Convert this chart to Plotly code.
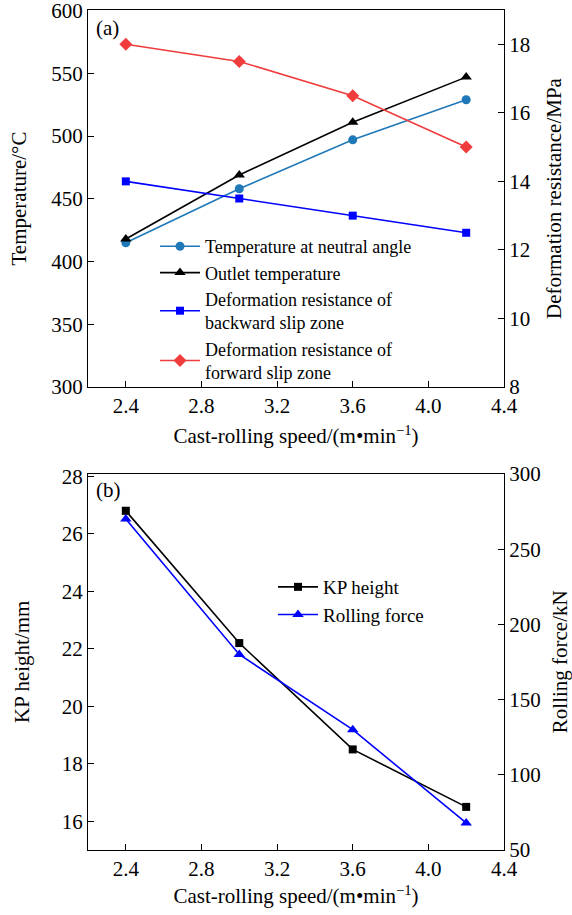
import plotly.graph_objects as go

# ---- data ----
speed = [2.4, 3.0, 3.6, 4.2]
temp_neutral = [415, 458, 497, 529]
temp_outlet = [418, 469, 511, 547]
def_backward = [14.0, 13.5, 13.0, 12.5]
def_forward = [18.0, 17.5, 16.5, 15.0]
kp_height = [26.8, 22.2, 18.5, 16.5]
rolling_force = [270, 180, 130, 68]

x_ticks = [2.4, 2.8, 3.2, 3.6, 4.0, 4.4]
x_ticktext = ["2.4", "2.8", "3.2", "3.6", "4.0", "4.4"]

W, H = 572, 915
FONT = "Liberation Serif, Times New Roman, serif"
FS = 21

def px_x(p):
    return p / W

def px_y(p):
    return 1 - p / H

fig = go.Figure()

# panel (a)
fig.add_trace(go.Scatter(x=speed, y=temp_neutral, mode="lines+markers",
                         name="Temperature at neutral angle",
                         line=dict(color="#1f78b8", width=1.6),
                         marker=dict(symbol="circle", size=9, color="#1f78b8"),
                         xaxis="x", yaxis="y", legend="legend"))
fig.add_trace(go.Scatter(x=speed, y=temp_outlet, mode="lines+markers",
                         name="Outlet temperature",
                         line=dict(color="black", width=1.6),
                         marker=dict(symbol="triangle-up", size=10, color="black"),
                         xaxis="x", yaxis="y", legend="legend"))
fig.add_trace(go.Scatter(x=speed, y=def_backward, mode="lines+markers",
                         name="Deformation resistance of<br>backward slip zone",
                         line=dict(color="#0000ff", width=1.6),
                         marker=dict(symbol="square", size=8, color="#0000ff"),
                         xaxis="x", yaxis="y2", legend="legend"))
fig.add_trace(go.Scatter(x=speed, y=def_forward, mode="lines+markers",
                         name="Deformation resistance of<br>forward slip zone",
                         line=dict(color="#f03c3c", width=1.6),
                         marker=dict(symbol="diamond", size=10, color="#f03c3c"),
                         xaxis="x", yaxis="y2", legend="legend"))

# panel (b)
fig.add_trace(go.Scatter(x=speed, y=kp_height, mode="lines+markers",
                         name="KP height",
                         line=dict(color="black", width=1.6),
                         marker=dict(symbol="square", size=8, color="black"),
                         xaxis="x2", yaxis="y3", legend="legend2"))
fig.add_trace(go.Scatter(x=speed, y=rolling_force, mode="lines+markers",
                         name="Rolling force",
                         line=dict(color="#0000ff", width=1.6),
                         marker=dict(symbol="triangle-up", size=10, color="#0000ff"),
                         xaxis="x2", yaxis="y4", legend="legend2"))

dom_x = [px_x(88), px_x(504)]
dom_a = [px_y(387), px_y(10)]
dom_b = [px_y(850), px_y(473.5)]

axis_common = dict(showline=True, linecolor="black", linewidth=1.2,
                   ticks="inside", ticklen=6, tickwidth=1.2, tickcolor="black",
                   showgrid=False, zeroline=False, automargin=False,
                   ticklabeloverflow="allow",
                   tickfont=dict(family=FONT, size=FS, color="black"))

xtitle = "Cast-rolling speed/(m•min<sup>−1</sup>)"

fig.update_layout(
    width=W, height=H,
    margin=dict(l=0, r=0, t=0, b=0),
    paper_bgcolor="white", plot_bgcolor="white",
    font=dict(family=FONT, size=FS, color="black"),
    xaxis=dict(domain=dom_x, anchor="y", range=[2.2, 4.4], tickvals=x_ticks,
               ticktext=x_ticktext, mirror=True,
               title=dict(text=xtitle, standoff=11, font=dict(family=FONT, size=FS)),
               **axis_common),
    yaxis=dict(domain=dom_a, anchor="x", range=[300, 600.5], tickvals=[300, 350, 400, 450, 500, 550, 600],
               title=dict(text="Temperature/°C", standoff=18, font=dict(family=FONT, size=FS)),
               **axis_common),
    yaxis2=dict(overlaying="y", anchor="x", side="right", range=[8, 19], tickvals=[8, 10, 12, 14, 16, 18],
                title=dict(text="Deformation resistance/MPa", standoff=16, font=dict(family=FONT, size=FS)),
                **axis_common),
    xaxis2=dict(domain=dom_x, anchor="y3", range=[2.2, 4.4], tickvals=x_ticks,
                ticktext=x_ticktext, mirror=True,
                title=dict(text=xtitle, standoff=8, font=dict(family=FONT, size=FS)),
                **axis_common),
    yaxis3=dict(domain=dom_b, anchor="x2", range=[15, 28.1], tickvals=[16, 18, 20, 22, 24, 26, 28],
                title=dict(text="KP height/mm", standoff=26, font=dict(family=FONT, size=FS)),
                **axis_common),
    yaxis4=dict(overlaying="y3", anchor="x2", side="right", range=[50, 300.3], tickvals=[50, 100, 150, 200, 250, 300],
                title=dict(text="Rolling force/kN", standoff=23, font=dict(family=FONT, size=FS)),
                **axis_common),
    legend=dict(x=px_x(155), y=px_y(228), xanchor="left", yanchor="top",
                bgcolor="rgba(0,0,0,0)", borderwidth=0, itemwidth=40,
                font=dict(family=FONT, size=18, color="black"),
                tracegroupgap=0, itemclick=False),
    legend2=dict(x=px_x(273), y=px_y(568), xanchor="left", yanchor="top",
                 bgcolor="rgba(0,0,0,0)", borderwidth=0, itemwidth=40,
                 font=dict(family=FONT, size=19, color="black"),
                 tracegroupgap=0),
    annotations=[
        dict(text="(a)", x=px_x(94), y=px_y(28), xref="paper", yref="paper",
             xanchor="left", yanchor="middle", showarrow=False,
             font=dict(family=FONT, size=FS, color="black")),
        dict(text="(b)", x=px_x(94), y=px_y(490), xref="paper", yref="paper",
             xanchor="left", yanchor="middle", showarrow=False,
             font=dict(family=FONT, size=FS, color="black")),
    ],
)

fig.write_html("out.html")
